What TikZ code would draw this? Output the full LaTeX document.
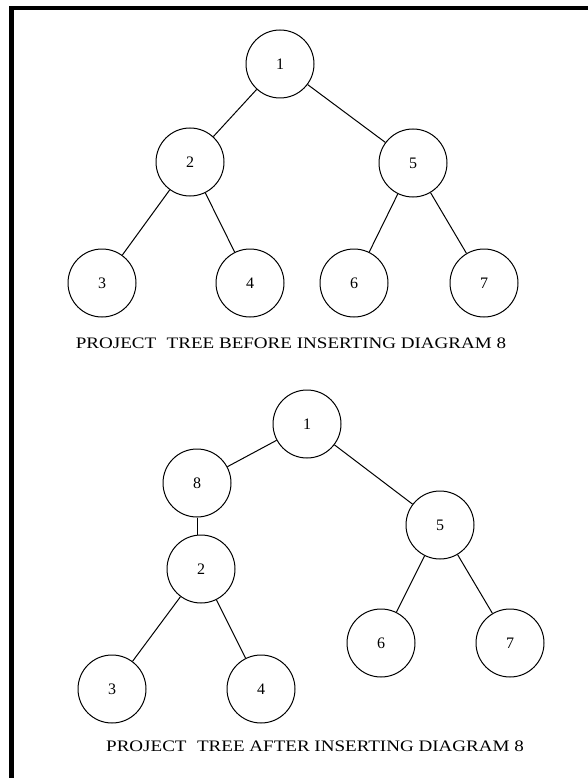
\documentclass[tikz,border=0pt]{standalone}
\usepackage{graphicx}
\usepackage{fontspec}
\setmainfont{Liberation Serif}
\begin{document}
\begin{tikzpicture}[x=1pt,y=-1pt,
  tnode/.style={circle,draw,line width=1pt,minimum size=68pt,inner sep=0pt,font=\fontsize{16}{16}\selectfont},
  tedge/.style={line width=1pt},
  caption/.style={font=\fontsize{16}{16}\selectfont,inner sep=0pt}]
\useasboundingbox (0,0) rectangle (588,778);
% frame (top and left edges)
\draw[line width=4.5pt,line join=miter,line cap=butt] (11.5,790) -- (11.5,8) -- (600,8);
% tree before
\node[tnode] (a1) at (280,64) {1};
\node[tnode] (a2) at (190,162) {2};
\node[tnode] (a5) at (413,163) {5};
\node[tnode] (a3) at (102,283) {3};
\node[tnode] (a4) at (250,283) {4};
\node[tnode] (a6) at (354,283) {6};
\node[tnode] (a7) at (484,283) {7};
\draw[tedge] (a1) -- (a2);
\draw[tedge] (a1) -- (a5);
\draw[tedge] (a2) -- (a3);
\draw[tedge] (a2) -- (a4);
\draw[tedge] (a5) -- (a6);
\draw[tedge] (a5) -- (a7);
\node[caption] (c1) at (291,343) {\scalebox{1.19}[1]{PROJECT\hspace{0.3em} TREE BEFORE INSERTING DIAGRAM 8}};
% tree after
\node[tnode] (b1) at (307,424) {1};
\node[tnode] (b8) at (197,483) {8};
\node[tnode] (b2) at (201,569) {2};
\node[tnode] (b5) at (440,525) {5};
\node[tnode] (b6) at (381,643) {6};
\node[tnode] (b7) at (510,643) {7};
\node[tnode] (b3) at (112,689) {3};
\node[tnode] (b4) at (261,689) {4};
\draw[tedge] (b1) -- (b8);
\draw[tedge] (b1) -- (b5);
\draw[tedge] (b8.south) -- (b8.south |- b2.north);
\draw[tedge] (b2) -- (b3);
\draw[tedge] (b2) -- (b4);
\draw[tedge] (b5) -- (b6);
\draw[tedge] (b5) -- (b7);
\node[caption] (c2) at (315,746) {\scalebox{1.19}[1]{PROJECT\hspace{0.3em} TREE AFTER INSERTING DIAGRAM 8}};
\end{tikzpicture}
\end{document}
